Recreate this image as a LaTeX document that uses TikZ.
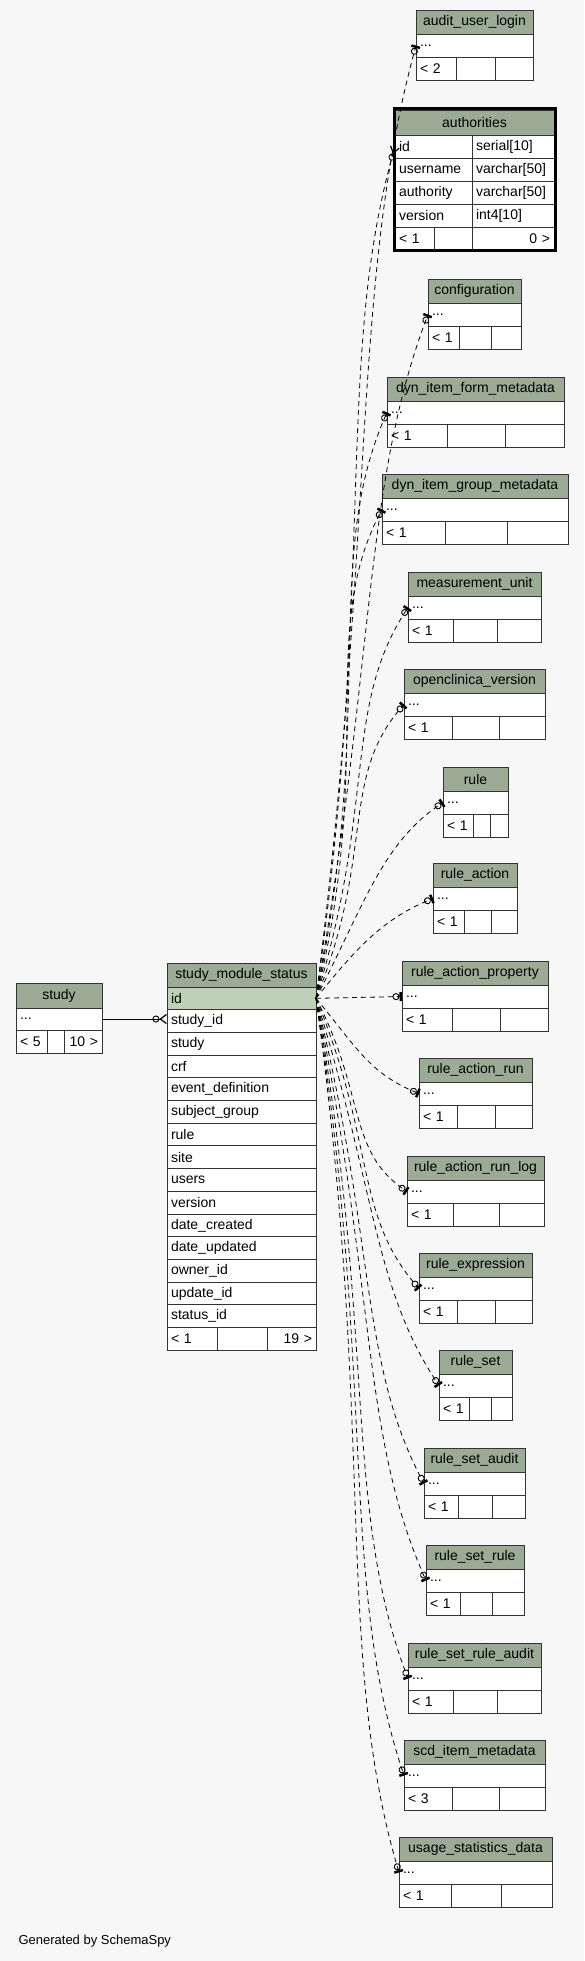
\documentclass[tikz,border=0pt]{standalone}
\usepackage{fontspec}
\usepackage{tikz}
\usetikzlibrary{positioning,arrows.meta}
\newfontfamily\schemafont{Liberation Sans}

\definecolor{pagebg}{HTML}{F7F7F7}
\definecolor{headgreen}{HTML}{9BAB96}
\definecolor{keygreen}{HTML}{BED1B8}
\definecolor{tblline}{HTML}{333333}

\tikzset{
  tblhead/.style={draw=tblline, fill=headgreen, line width=0.9pt, outer sep=0pt,
    inner sep=0pt, minimum height=24pt, font=\schemafont\fontsize{14}{16}\selectfont},
  tblcell/.style={draw=tblline, fill=white, line width=0.9pt, outer sep=0pt,
    inner xsep=4pt, inner ysep=0pt, minimum height=23pt, align=left,
    font=\schemafont\fontsize{14}{16}\selectfont},
  smsrow/.style={tblcell, text width=141pt, minimum height=22.7pt},
  relline/.style={line width=0.8pt, dash pattern=on 5pt off 4pt,
    -{Circle[open,length=7pt,width=7pt,line width=0.9pt]Bar[width=9pt,line width=2.5pt]}},
  relmany/.style={line width=0.8pt, dash pattern=on 5pt off 4pt,
    -{Circle[open,length=7pt,width=7pt,line width=0.9pt]Straight Barb[reversed,length=6pt,width=9pt,line width=1.2pt]}}
}

% small table: name, x, y, width, split1, split2, title, rows
\newcommand{\smalltable}[8]{%
  \pgfmathsetmacro{\rowtw}{#4-8}%
  \pgfmathsetmacro{\foota}{#5-#2-8}%
  \pgfmathsetmacro{\footb}{#6-#5-8}%
  \pgfmathsetmacro{\footc}{#2+#4-#6-8}%
  \node[tblhead, minimum width=#4pt, anchor=north west] (#1) at (#2,#3) {#7};
  \node[tblcell, text width=\rowtw pt, below=0pt of #1] (#1-row) {...};
  \node[tblcell, text width=\foota pt, anchor=north west] (#1-f1) at (#1-row.south west) {< #8};
  \node[tblcell, text width=\footb pt, right=0pt of #1-f1] (#1-f2) {};
  \node[tblcell, text width=\footc pt, right=0pt of #1-f2] (#1-f3) {};
}

\begin{document}
\begin{tikzpicture}[x=1pt, y=-1pt]
\fill[pagebg] (0,0) rectangle (584,1961);
\useasboundingbox (0,0) rectangle (584,1961);

% study
\node[tblhead, minimum width=86pt, minimum height=25pt, anchor=north west] (study) at (16,983) {study};
\node[tblcell, text width=78pt, minimum height=22pt, below=0pt of study] (study-row) {...};
\node[tblcell, text width=23pt, anchor=north west] (study-f1) at (study-row.south west) {< 5};
\node[tblcell, text width=9pt, right=0pt of study-f1] (study-f2) {};
\node[tblcell, text width=30pt, align=right, right=0pt of study-f2] (study-f3) {10 >};

% study_module_status
\node[tblhead, minimum width=149pt, anchor=north west] (sms) at (167,963) {study\_module\_status};
\node[smsrow, fill=keygreen, below=0pt of sms] (sms-id) {id};
\node[smsrow, below=0pt of sms-id] (sms-sid) {study\_id};
\node[smsrow, below=0pt of sms-sid] (sms-study) {study};
\node[smsrow, below=0pt of sms-study] (sms-crf) {crf};
\node[smsrow, below=0pt of sms-crf] (sms-ed) {event\_definition};
\node[smsrow, below=0pt of sms-ed] (sms-sg) {subject\_group};
\node[smsrow, below=0pt of sms-sg] (sms-rule) {rule};
\node[smsrow, below=0pt of sms-rule] (sms-site) {site};
\node[smsrow, below=0pt of sms-site] (sms-users) {users};
\node[smsrow, below=0pt of sms-users] (sms-ver) {version};
\node[smsrow, below=0pt of sms-ver] (sms-dc) {date\_created};
\node[smsrow, below=0pt of sms-dc] (sms-du) {date\_updated};
\node[smsrow, below=0pt of sms-du] (sms-oid) {owner\_id};
\node[smsrow, below=0pt of sms-oid] (sms-uid) {update\_id};
\node[smsrow, below=0pt of sms-uid] (sms-stid) {status\_id};
\node[tblcell, text width=42pt, minimum height=22.7pt, anchor=north west] (sms-f1) at (sms-stid.south west) {< 1};
\node[tblcell, text width=42pt, minimum height=22.7pt, right=0pt of sms-f1] (sms-f2) {};
\node[tblcell, text width=41pt, minimum height=22.7pt, align=right, right=0pt of sms-f2] (sms-f3) {19 >};

% authorities
\node[tblhead, minimum width=159pt, minimum height=25pt, anchor=north west] (auth) at (395,110) {authorities};
\node[tblcell, text width=69pt, anchor=north west] (auth-id) at (auth.south west) {id};
\node[tblcell, text width=74pt, right=0pt of auth-id] (auth-idt) {serial[10]};
\node[tblcell, text width=69pt, below=0pt of auth-id] (auth-un) {username};
\node[tblcell, text width=74pt, right=0pt of auth-un] (auth-unt) {varchar[50]};
\node[tblcell, text width=69pt, below=0pt of auth-un] (auth-au) {authority};
\node[tblcell, text width=74pt, right=0pt of auth-au] (auth-aut) {varchar[50]};
\node[tblcell, text width=69pt, below=0pt of auth-au] (auth-ver) {version};
\node[tblcell, text width=74pt, right=0pt of auth-ver] (auth-vert) {int4[10]};
\node[tblcell, text width=31pt, anchor=north west] (auth-f1) at (auth-ver.south west) {< 1};
\node[tblcell, text width=30pt, right=0pt of auth-f1] (auth-f2) {};
\node[tblcell, text width=74pt, align=right, right=0pt of auth-f2] (auth-f3) {0 >};
\draw[line width=3pt] ([shift={(-1,-1)}]auth.north west) rectangle ([shift={(1,1)}]auth-f3.south east);

% the other tables
\smalltable{aul}{416}{10}{117}{456}{495}{audit\_user\_login}{2}
\smalltable{conf}{428}{279}{93}{459}{491}{configuration}{1}
\smalltable{difm}{387}{377}{177}{447}{505}{dyn\_item\_form\_metadata}{1}
\smalltable{digm}{382}{474}{186}{445}{507}{dyn\_item\_group\_metadata}{1}
\smalltable{mu}{408}{572}{133}{453}{497}{measurement\_unit}{1}
\smalltable{ocv}{404}{669}{141}{452}{499}{openclinica\_version}{1}
\smalltable{rule}{443}{767}{65}{473}{490}{rule}{1}
\smalltable{ra}{433}{863}{84}{464}{491}{rule\_action}{1}
\smalltable{rap}{402}{961}{146}{452}{500}{rule\_action\_property}{1}
\smalltable{rar}{419}{1058}{113}{457}{495}{rule\_action\_run}{1}
\smalltable{rarl}{407}{1156}{137}{453}{499}{rule\_action\_run\_log}{1}
\smalltable{rexp}{419}{1253}{113}{457}{495}{rule\_expression}{1}
\smalltable{rs}{439}{1350}{73}{469}{491}{rule\_set}{1}
\smalltable{rsa}{424}{1448}{101}{458}{492}{rule\_set\_audit}{1}
\smalltable{rsr}{426}{1545}{98}{460}{492}{rule\_set\_rule}{1}
\smalltable{rsra}{408}{1643}{133}{453}{497}{rule\_set\_rule\_audit}{1}
\smalltable{scd}{404}{1740}{141}{452}{499}{scd\_item\_metadata}{3}
\smalltable{usd}{399}{1837}{153}{451}{501}{usage\_statistics\_data}{1}

% relationships
\draw[line width=0.8pt, -{Circle[open,length=7pt,width=7pt,line width=0.9pt]Straight Barb[reversed,length=6pt,width=9pt,line width=1.2pt]}] (study-row.east) -- (study-row.east -| sms-sid.west);
\draw[relline] (sms-id.east) .. controls +(60,-476) and +(-65,238) .. (aul-row.west);
\draw[relmany] (sms-id.east) .. controls +(60,-426) and +(-60,213) .. (auth-id.west);
\draw[relline] (sms-id.east) .. controls +(60,-342) and +(-65,171) .. (conf-row.west);
\draw[relline] (sms-id.east) .. controls +(60,-293) and +(-65,146) .. (difm-row.west);
\draw[relline] (sms-id.east) .. controls +(60,-244) and +(-65,122) .. (digm-row.west);
\draw[relline] (sms-id.east) .. controls +(60,-195) and +(-65,98) .. (mu-row.west);
\draw[relline] (sms-id.east) .. controls +(60,-147) and +(-65,73) .. (ocv-row.west);
\draw[relline] (sms-id.east) .. controls +(50,-98) and +(-60,40) .. (rule-row.west);
\draw[relline] (sms-id.east) .. controls +(40,-50) and +(-50,20) .. (ra-row.west);
\draw[relline] (sms-id.east) -- (rap-row.west);
\draw[relline] (sms-id.east) .. controls +(40,48) and +(-50,-20) .. (rar-row.west);
\draw[relline] (sms-id.east) .. controls +(50,96) and +(-60,-40) .. (rarl-row.west);
\draw[relline] (sms-id.east) .. controls +(60,145) and +(-65,-73) .. (rexp-row.west);
\draw[relline] (sms-id.east) .. controls +(60,194) and +(-65,-97) .. (rs-row.west);
\draw[relline] (sms-id.east) .. controls +(60,242) and +(-65,-121) .. (rsa-row.west);
\draw[relline] (sms-id.east) .. controls +(60,291) and +(-65,-146) .. (rsr-row.west);
\draw[relline] (sms-id.east) .. controls +(60,340) and +(-65,-170) .. (rsra-row.west);
\draw[relline] (sms-id.east) .. controls +(60,388) and +(-65,-194) .. (scd-row.west);
\draw[relline] (sms-id.east) .. controls +(60,437) and +(-65,-219) .. (usd-row.west);

\node[anchor=west, font=\schemafont\fontsize{13}{15}\selectfont] (credit) at (15,1941) {Generated by SchemaSpy};
\end{tikzpicture}
\end{document}
